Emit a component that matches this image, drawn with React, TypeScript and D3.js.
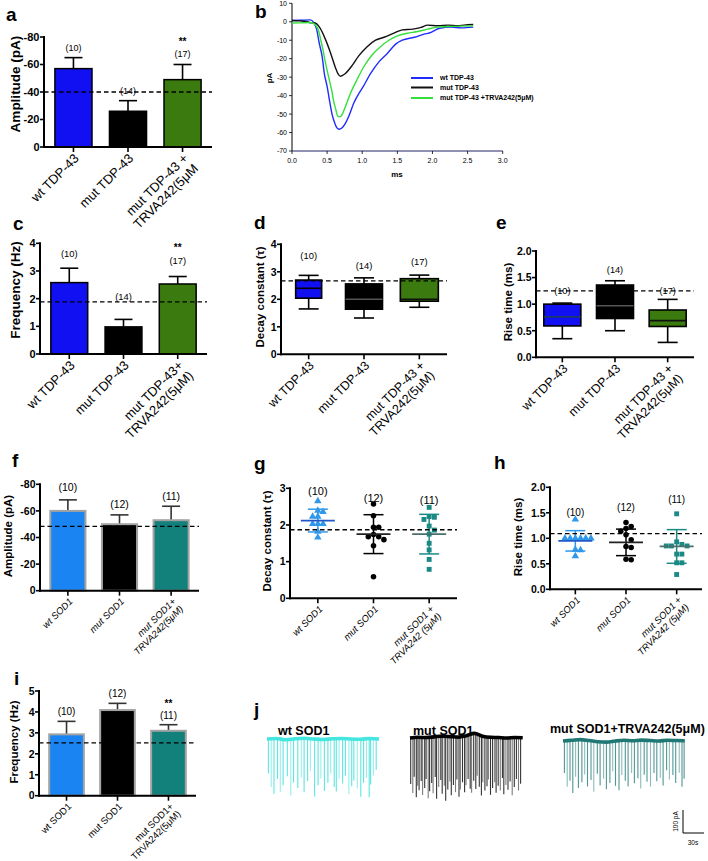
import React from "react";
import * as d3 from "d3";

const FONT = "'Liberation Sans', Arial, Helvetica, sans-serif";

// ================= DATA =================
// a: amplitude TDP-43
const aLabels = [["wt TDP-43"], ["mut TDP-43"], ["mut TDP-43 +", "TRVA242(5μM"]];
const aMean = [-57, -26, -49];
const aSem = [8, 7.7, 11];
const aN = ["(10)", "(14)", "(17)"];
const aNAt = [-72, -41, -67.6];
const aStarsAt = [null, null, -78];
const aRef = -40;
const aTicks = [0, -20, -40, -60, -80];

// b: average mEPSC traces (time ms, current pA)
const bWt: [number, number][] = [
  [0, 0.7], [0.11, 0.8], [0.26, 1.0], [0.31, -0.5], [0.35, -4], [0.39, -12], [0.43, -19], [0.46, -28],
  [0.5, -35], [0.54, -44], [0.57, -50], [0.61, -55], [0.64, -57.5], [0.67, -58.2], [0.71, -57.5],
  [0.76, -55], [0.81, -51], [0.88, -44], [0.95, -39], [1.0, -36], [1.12, -28], [1.24, -21.6],
  [1.36, -17], [1.48, -12], [1.57, -10], [1.74, -8.4], [1.88, -6.7], [1.98, -5.8], [2.04, -4.5],
  [2.1, -3.5], [2.27, -2.9], [2.41, -3.3], [2.58, -2.9],
];
const bMut: [number, number][] = [
  [0, 0.7], [0.11, 0.5], [0.2, 0.2], [0.26, -0.5], [0.33, -0.7], [0.4, -3.5], [0.47, -9], [0.55, -17],
  [0.62, -25], [0.66, -28.5], [0.69, -29.5], [0.72, -29], [0.76, -28], [0.86, -23.5], [0.95, -18.5],
  [1.07, -13.5], [1.19, -10], [1.31, -8.4], [1.45, -6.2], [1.57, -4.4], [1.72, -4], [1.84, -3],
  [1.93, -1.8], [2.08, -2.2], [2.22, -1.8], [2.36, -2.2], [2.45, -1.8], [2.58, -1.5],
];
const bTr: [number, number][] = [
  [0, -0.7], [0.11, -0.6], [0.26, -0.4], [0.3, -0.8], [0.34, -2], [0.38, -5], [0.41, -10], [0.44, -15],
  [0.47, -21], [0.51, -28], [0.54, -33], [0.57, -38], [0.59, -42.5], [0.62, -47], [0.65, -51],
  [0.68, -51.5], [0.71, -50.5], [0.76, -46], [0.83, -39], [0.93, -31], [1.02, -24.5], [1.14, -18],
  [1.26, -13.5], [1.38, -10], [1.5, -7.6], [1.64, -6.2], [1.79, -5.3], [1.93, -4], [2.08, -2.9],
  [2.27, -2.5], [2.58, -2.2],
];
const bLegend = ["wt TDP-43", "mut TDP-43", " mut TDP-43 +TRVA242(5μM)"];
const bXTicks = [0, 0.5, 1, 1.5, 2, 2.5, 3];
const bYTicks = [-70, -60, -50, -40, -30, -20, -10, 0, 10];

// c: frequency TDP-43
const cLabels = [["wt TDP-43"], ["mut TDP-43"], ["mut TDP-43+", "TRVA242(5μM)"]];
const cMean = [2.58, 0.98, 2.53];
const cSem = [0.52, 0.27, 0.27];
const cN = ["(10)", "(14)", "(17)"];
const cNAt = [3.61, 2.06, 3.36];
const cStarsAt = [null, null, 3.9];
const cRef = 1.88;
const cTicks = [0, 1, 2, 3, 4];

// d: decay constant TDP-43 (box plots)
const dLabels = [["wt TDP-43"], ["mut TDP-43"], ["mut TDP-43 +", "TRVA242(5μM)"]];
const dMin = [1.65, 1.32, 1.71];
const dQ1 = [2.04, 1.64, 1.93];
const dMed = [2.4, 2.0, 2.0];
const dQ3 = [2.7, 2.56, 2.75];
const dMax = [2.87, 2.78, 2.88];
const dN = ["(10)", "(14)", "(17)"];
const dNAt = [3.57, 3.21, 3.36];
const dRef = 2.67;
const dTicks = [0, 1, 2, 3, 4];

// e: rise time TDP-43 (box plots)
const eLabels = [["wt TDP-43"], ["mut TDP-43"], ["mut TDP-43 +", "TRVA242(5μM)"]];
const eMin = [0.35, 0.5, 0.28];
const eQ1 = [0.59, 0.73, 0.58];
const eMed = [0.76, 0.97, 0.69];
const eQ3 = [1.0, 1.36, 0.89];
const eMax = [1.02, 1.44, 1.09];
const eN = ["(10)", "(14)", "(17)"];
const eNAt = [1.25, 1.64, 1.25];
const eRef = 1.25;
const eTicks = [0, 0.5, 1, 1.5, 2];

// f: amplitude SOD1
const fLabels = [["wt SOD1"], ["mut SOD1"], ["mut SOD1+", "TRVA242(5μM)"]];
const fMean = [-60, -50, -53];
const fSem = [8.3, 7, 10.5];
const fN = ["(10)", "(12)", "(11)"];
const fNAt = [-78, -65.2, -71.2];
const fRef = -48.4;
const fTicks = [0, -20, -40, -60, -80];

// g: decay constant SOD1 (scatter)
const gLabels = [["wt SOD1"], ["mut SOD1"], ["mut SOD1 +", "TRVA242 (5μM)"]];
const gWt = [2.65, 2.39, 2.36, 2.23, 2.23, 2.03, 2.03, 2.03, 1.82, 1.66];
const gMut = [2.57, 2.25, 1.94, 1.94, 1.74, 1.68, 1.68, 1.6, 1.43, 0.59];
const gTr = [2.48, 2.23, 2.21, 2.15, 1.97, 1.86, 1.75, 1.5, 1.32, 1.06, 0.79];
const gMean = [2.12, 1.75, 1.75];
const gSd = [0.31, 0.53, 0.54];
const gN = ["(10)", "(12)", "(11)"];
const gNAt = [2.93, 2.74, 2.68];
const gRef = 1.87;
const gTicks = [0, 1, 2, 3];

// h: rise time SOD1 (scatter)
const hLabels = [["wt SOD1"], ["mut SOD1"], ["mut SOD1 +", "TRVA242 (5μM)"]];
const hWt = [1.37, 1.0, 1.0, 1.0, 1.0, 1.0, 1.0, 0.78, 0.77, 0.65];
const hMut = [1.31, 1.23, 1.19, 1.14, 1.07, 0.97, 0.84, 0.82, 0.58, 0.59];
const hTr = [1.48, 0.93, 0.88, 0.85, 0.85, 0.85, 0.69, 0.69, 0.52, 0.52, 0.29];
const hMean = [0.95, 0.92, 0.84];
const hSd = [0.2, 0.26, 0.33];
const hN = ["(10)", "(12)", "(11)"];
const hNAt = [1.5, 1.61, 1.77];
const hRef = 1.09;
const hTicks = [0, 0.5, 1, 1.5, 2];

// i: frequency SOD1
const iLabels = [["wt SOD1"], ["mut SOD1"], ["mut SOD1+", "TRVA242(5μM)"]];
const iMean = [2.93, 4.09, 3.1];
const iSem = [0.62, 0.32, 0.29];
const iN = ["(10)", "(12)", "(11)"];
const iNAt = [4.0, 4.9, 3.81];
const iStarsAt = [null, null, 4.47];
const iRef = 2.52;
const iTicks = [0, 1, 2, 3, 4, 5];

// j: spontaneous recordings (time s, amplitude pA)
const jTitles = ["wt SOD1", "mut SOD1", "mut SOD1+TRVA242(5μM)"];
const jWtSpikes: [number, number][] = [
  [2, 150], [6, 210], [10, 240], [15, 175], [19, 230], [23, 200], [29, 160], [34, 245], [38, 190],
  [44, 215], [49, 170], [53, 235], [58, 185], [62, 140], [68, 250], [73, 200], [77, 170], [82, 225],
  [87, 190], [91, 150], [96, 210], [99, 230], [103, 175], [108, 195], [112, 160], [117, 240],
  [121, 205], [124, 180], [129, 215], [134, 250], [138, 190], [142, 170], [146, 255], [148, 200],
  [152, 160], [156, 135],
];
const jMutSpikes: [number, number][] = [
  [1, 200], [4, 240], [6, 170], [9, 260], [11, 210], [13, 230], [16, 190], [18, 250], [21, 220],
  [23, 180], [26, 265], [28, 235], [31, 200], [33, 245], [36, 175], [38, 270], [41, 220], [44, 190],
  [46, 250], [49, 215], [51, 280], [54, 230], [57, 195], [59, 255], [62, 210], [65, 240], [67, 185],
  [70, 260], [72, 230], [75, 200], [78, 245], [80, 215], [83, 190], [86, 235], [88, 255], [91, 205],
  [94, 240], [96, 180], [99, 225], [102, 260], [104, 200], [107, 235], [110, 215], [112, 185],
  [115, 250], [118, 220], [121, 195], [123, 240], [126, 210], [129, 230], [132, 175], [134, 245],
  [137, 205], [140, 225], [143, 190], [146, 250], [149, 215], [152, 180], [155, 230], [158, 200],
];
const jTrSpikes: [number, number][] = [
  [2, 140], [6, 200], [10, 175], [14, 230], [18, 160], [22, 210], [27, 185], [31, 150], [35, 200],
  [40, 170], [44, 220], [49, 140], [53, 190], [58, 160], [62, 205], [67, 180], [71, 130], [75, 195],
  [80, 215], [84, 150], [89, 175], [93, 200], [98, 140], [102, 185], [107, 165], [111, 210],
  [116, 150], [120, 180], [125, 200], [130, 140], [134, 175], [139, 160], [143, 195], [148, 130],
  [152, 170], [157, 150], [161, 185], [166, 140], [170, 200], [173, 165],
];
const jWtDrift = [0, 2, -3, 1, 3, 0, -2, 1, 2, 0, -1, 2, 0];
const jMutDrift = [0, 3, 2, 5, 8, 6, 4, 10, 20, 8, 3, 2, 0, 2, 1];
const jTrDrift = [0, 3, 6, 2, -3, -5, 0, 3, 1, 4, 2, 0, 3, 2, 1];
const jDur = [160, 161, 174];

// ================= HELPERS =================
const fmtInt = (v: number) => String(v);
const fmt1 = d3.format(".1f");

function XLabels({ xs, y0, labels, size, italic }: { xs: number[]; y0: number; labels: string[][]; size: number; italic?: boolean }) {
  return (
    <g>
      {labels.map((lines, i) => (
        <g key={i} transform={`translate(${xs[i] + 3},${y0 + 9}) rotate(-45)`}>
          <text textAnchor="end" fontSize={size} fontStyle={italic ? "italic" : "normal"} fill="#000">
            {lines.map((l, j) => (
              <tspan key={j} x={0} dy={j === 0 ? "0.35em" : "1.1em"}>{l}</tspan>
            ))}
          </text>
        </g>
      ))}
    </g>
  );
}

interface FrameProps {
  x0: number; x1: number; y: d3.ScaleLinear<number, number>; ticks: number[]; fmt: (v: number) => string;
  tickSize: number; xs: number[]; labels: string[][]; labelSize: number; italic?: boolean;
  title: string; titleX: number; titleY: number; titleSize: number;
  letter: string; letterX: number; letterY: number; refV: number;
  n: string[]; nAt: number[]; nSize: number; starsAt?: (number | null)[];
  children?: React.ReactNode;
}

function Frame(p: FrameProps) {
  const d = p.y.domain();
  const y0 = p.y(d[0]);
  const yT = p.y(d[1]);
  return (
    <g>
      {p.children}
      <line x1={p.x0} x2={p.x1} y1={p.y(p.refV)} y2={p.y(p.refV)} stroke="#000" strokeWidth={1.3} strokeDasharray="4.5,3" />
      {/* y axis */}
      <line x1={p.x0} x2={p.x0} y1={y0 + 1} y2={yT - 1} stroke="#000" strokeWidth={2} />
      {p.ticks.map((t) => (
        <g key={t}>
          <line x1={p.x0 - 4} x2={p.x0} y1={p.y(t)} y2={p.y(t)} stroke="#000" strokeWidth={1.6} />
          <text x={p.x0 - 4.5} y={p.y(t)} dy="0.36em" textAnchor="end" fontSize={p.tickSize} fontWeight="bold">{p.fmt(t)}</text>
        </g>
      ))}
      {/* x axis */}
      <line x1={p.x0 - 1} x2={p.x1} y1={y0} y2={y0} stroke="#000" strokeWidth={2} />
      {p.xs.map((x, i) => (
        <line key={i} x1={x} x2={x} y1={y0} y2={y0 + 5} stroke="#000" strokeWidth={1.6} />
      ))}
      <XLabels xs={p.xs} y0={y0} labels={p.labels} size={p.labelSize} italic={p.italic} />
      <text transform={`translate(${p.titleX},${p.titleY}) rotate(-90)`} textAnchor="middle" dy="0.35em" fontSize={p.titleSize} fontWeight="bold">{p.title}</text>
      <text x={p.letterX} y={p.letterY} fontSize={19} fontWeight="bold">{p.letter}</text>
      {p.n.map((s, i) => (
        <text key={i} x={p.xs[i]} y={p.y(p.nAt[i])} dy="0.35em" textAnchor="middle" fontSize={p.nSize}>{s}</text>
      ))}
      {p.starsAt && p.starsAt.map((v, i) => v === null ? null : (
        <text key={"s" + i} x={p.xs[i]} y={p.y(v) + 5} textAnchor="middle" fontSize={10} fontWeight="bold">**</text>
      ))}
    </g>
  );
}

type Common = Omit<FrameProps, "y" | "xs" | "children">;

function BarPanel(p: Common & {
  y0: number; yTop: number; domain: [number, number]; means: number[]; sems: number[];
  colors: string[]; barStroke: string; barStrokeW: number; errColor: string;
}) {
  const y = d3.scaleLinear().domain(p.domain).range([p.y0, p.yTop]);
  const xb = d3.scaleBand<number>().domain(d3.range(p.means.length)).range([p.x0, p.x1]).paddingInner(0.32).paddingOuter(0.2);
  const bw = xb.bandwidth();
  const xs = p.means.map((_, i) => (xb(i) as number) + bw / 2);
  return (
    <Frame {...p} y={y} xs={xs}>
      {p.means.map((m, i) => {
        const top = y(m + Math.sign(m) * p.sems[i]);
        return (
          <g key={i}>
            <line x1={xs[i]} x2={xs[i]} y1={y(m)} y2={top} stroke={p.errColor} strokeWidth={1.6} />
            <line x1={xs[i] - 9} x2={xs[i] + 9} y1={top} y2={top} stroke={p.errColor} strokeWidth={1.6} />
            <rect x={xb(i)} y={y(m)} width={bw} height={p.y0 - y(m)} fill={p.colors[i]} stroke={p.barStroke} strokeWidth={p.barStrokeW} />
          </g>
        );
      })}
    </Frame>
  );
}

function BoxPanel(p: Common & {
  y0: number; yTop: number; domain: [number, number]; mins: number[]; q1: number[]; med: number[];
  q3: number[]; maxs: number[]; colors: string[]; medColors: string[]; widths: number[];
}) {
  const y = d3.scaleLinear().domain(p.domain).range([p.y0, p.yTop]);
  const xp = d3.scalePoint<number>().domain(d3.range(p.med.length)).range([p.x0, p.x1]).padding(0.5);
  const xs = p.med.map((_, i) => xp(i) as number);
  return (
    <Frame {...p} y={y} xs={xs}>
      {p.med.map((m, i) => {
        const cx = xs[i];
        const w = p.widths[i];
        return (
          <g key={i} stroke="#000" strokeWidth={1.6}>
            <line x1={cx} x2={cx} y1={y(p.q3[i])} y2={y(p.maxs[i])} />
            <line x1={cx} x2={cx} y1={y(p.q1[i])} y2={y(p.mins[i])} />
            <line x1={cx - 10} x2={cx + 10} y1={y(p.maxs[i])} y2={y(p.maxs[i])} />
            <line x1={cx - 10} x2={cx + 10} y1={y(p.mins[i])} y2={y(p.mins[i])} />
            <rect x={cx - w / 2} y={y(p.q3[i])} width={w} height={y(p.q1[i]) - y(p.q3[i])} fill={p.colors[i]} />
            <line x1={cx - w / 2} x2={cx + w / 2} y1={y(m)} y2={y(m)} stroke={p.medColors[i]} />
          </g>
        );
      })}
    </Frame>
  );
}

function swarm(vals: number[], y: (v: number) => number, r: number): number[] {
  const out = vals.map(() => 0);
  const placed: { x: number; y: number }[] = [];
  const order = d3.range(vals.length).sort((a, b) => vals[b] - vals[a]);
  for (const i of order) {
    const py = y(vals[i]);
    for (let k = 0; k < 30; k++) {
      const off = k === 0 ? 0 : (k % 2 === 1 ? 1 : -1) * Math.ceil(k / 2) * r;
      const hit = placed.some((q) => Math.abs(q.x - off) < r * 0.99 && Math.abs(q.y - py) < r * 0.99);
      if (!hit) {
        out[i] = off;
        placed.push({ x: off, y: py });
        break;
      }
    }
  }
  return out;
}

function ScatterPanel(p: Common & {
  y0: number; yTop: number; domain: [number, number]; groups: number[][]; means: number[]; sds: number[];
  colors: string[]; meanColors: string[]; symbols: d3.SymbolType[];
}) {
  const y = d3.scaleLinear().domain(p.domain).range([p.y0, p.yTop]);
  const xp = d3.scalePoint<number>().domain(d3.range(p.groups.length)).range([p.x0, p.x1]).padding(0.5);
  const xs = p.groups.map((_, i) => xp(i) as number);
  return (
    <Frame {...p} y={y} xs={xs}>
      {p.groups.map((vals, i) => {
        const cx = xs[i];
        const offs = swarm(vals, y, 5.2);
        const sym = d3.symbol().type(p.symbols[i]).size(24)();
        const hi = y(p.means[i] + p.sds[i]);
        const lo = y(p.means[i] - p.sds[i]);
        return (
          <g key={i}>
            {vals.map((v, k) => (
              <path key={k} d={sym as string} transform={`translate(${cx + offs[k]},${y(v)})`} fill={p.colors[i]} />
            ))}
            <g stroke={p.colors[i]} strokeWidth={1.5}>
              <line x1={cx} x2={cx} y1={hi} y2={lo} />
              <line x1={cx - 10} x2={cx + 10} y1={hi} y2={hi} />
              <line x1={cx - 10} x2={cx + 10} y1={lo} y2={lo} />
            </g>
            <line x1={cx - 17} x2={cx + 17} y1={y(p.means[i])} y2={y(p.means[i])} stroke={p.meanColors[i]} strokeWidth={1.8} />
          </g>
        );
      })}
    </Frame>
  );
}

function PanelB() {
  const x = d3.scaleLinear().domain([0, 3]).range([292, 502.7]);
  const y = d3.scaleLinear().domain([-70, 10]).range([151, 3.3]);
  const line = d3.line<[number, number]>().x((d) => x(d[0])).y((d) => y(d[1])).curve(d3.curveMonotoneX);
  const series = [
    { d: bWt, c: "#1f2bff" },
    { d: bMut, c: "#111" },
    { d: bTr, c: "#33e03a" },
  ];
  const legendY = [78, 87.5, 98];
  return (
    <g>
      <text x={255} y={18} fontSize={19} fontWeight="bold">b</text>
      <line x1={292} x2={292} y1={3.3} y2={151} stroke="#000" strokeWidth={1} />
      <line x1={292} x2={502.7} y1={151} y2={151} stroke="#222266" strokeWidth={1} />
      {bYTicks.map((t) => (
        <g key={t}>
          <line x1={289} x2={292} y1={y(t)} y2={y(t)} stroke="#000" strokeWidth={0.8} />
          <text x={287} y={y(t)} dy="0.35em" textAnchor="end" fontSize={7}>{t}</text>
        </g>
      ))}
      {bXTicks.map((t) => (
        <g key={t}>
          <line x1={x(t)} x2={x(t)} y1={151} y2={154} stroke="#000" strokeWidth={0.8} />
          <text x={x(t)} y={161} dy="0.35em" textAnchor="middle" fontSize={7}>{fmt1(t)}</text>
        </g>
      ))}
      <text transform="translate(269,78) rotate(-90)" textAnchor="middle" dy="0.35em" fontSize={8} fontWeight="bold">pA</text>
      <text x={397} y={174} textAnchor="middle" dy="0.35em" fontSize={8} fontWeight="bold">ms</text>
      {series.map((s, i) => (
        <path key={i} d={line(s.d) as string} fill="none" stroke={s.c} strokeWidth={1.4} />
      ))}
      {series.map((s, i) => (
        <g key={"l" + i}>
          <line x1={411} x2={433} y1={legendY[i]} y2={legendY[i]} stroke={s.c} strokeWidth={2} />
          <text x={440} y={legendY[i]} dy="0.35em" fontSize={7} fontWeight="bold">{bLegend[i]}</text>
        </g>
      ))}
    </g>
  );
}

function Trace({ x0, base, dur, drift, spikes, color, spikeColor }: {
  x0: number; base: number; dur: number; drift: number[]; spikes: [number, number][]; color: string; spikeColor: string;
}) {
  const x = d3.scaleLinear().domain([0, dur]).range([x0, x0 + dur * 0.7]);
  const k = d3.scaleLinear().domain([0, 100]).range([0, 23]);
  const dt = d3.range(drift.length).map((i) => (i * dur) / (drift.length - 1));
  const driftAt = d3.scaleLinear().domain(dt).range(drift);
  const basePath = d3.line<number>().x((_, i) => x(dt[i])).y((v) => base - k(v)).curve(d3.curveMonotoneX)(drift);
  return (
    <g>
      {spikes.map(([t, a], i) => (
        <line key={i} x1={x(t)} x2={x(t)} y1={base - k(driftAt(t))} y2={base - k(driftAt(t)) + k(a)}
          stroke={spikeColor} strokeWidth={1.1} strokeOpacity={i % 3 === 1 ? 0.55 : 0.85} />
      ))}
      <path d={basePath as string} fill="none" stroke={color} strokeWidth={3.6} />
    </g>
  );
}

function PanelJ() {
  const k = d3.scaleLinear().domain([0, 100]).range([0, 23]);
  const sx = 30 * 0.7;
  return (
    <g>
      <text x={254} y={716} fontSize={19} fontWeight="bold">j</text>
      <text x={278} y={735} fontSize={12.5} fontWeight="bold">{jTitles[0]}</text>
      <text x={413} y={735} fontSize={12.5} fontWeight="bold">{jTitles[1]}</text>
      <text x={550} y={733} fontSize={12.5} fontWeight="bold">{jTitles[2]}</text>
      <Trace x0={267} base={739} dur={jDur[0]} drift={jWtDrift} spikes={jWtSpikes} color="#45e6e0" spikeColor="#3fe0da" />
      <Trace x0={410} base={738} dur={jDur[1]} drift={jMutDrift} spikes={jMutSpikes} color="#000" spikeColor="#111" />
      <Trace x0={563} base={741} dur={jDur[2]} drift={jTrDrift} spikes={jTrSpikes} color="#1f7873" spikeColor="#2e8580" />
      <line x1={683} x2={683} y1={833 - k(100)} y2={833} stroke="#000" strokeWidth={1} />
      <line x1={683} x2={683 + sx} y1={833} y2={833} stroke="#000" strokeWidth={1} />
      <text transform={`translate(676,${833 - k(50)}) rotate(-90)`} textAnchor="middle" dy="0.35em" fontSize={6.5}>100 pA</text>
      <text x={693} y={843} textAnchor="middle" dy="0.35em" fontSize={6.5}>30s</text>
    </g>
  );
}

export default function App() {
  return (
    <svg width={708} height={861} style={{ position: "absolute", left: 0, top: 0 }} fontFamily={FONT}>
      <rect width={708} height={861} fill="#fff" />
      <BarPanel x0={44} x1={212} y0={147} yTop={37} domain={[0, -80]} ticks={aTicks} fmt={fmtInt} tickSize={11}
        means={aMean} sems={aSem} colors={["#1010f2", "#000", "#3b7a0e"]} barStroke="#000" barStrokeW={1.5} errColor="#000"
        labels={aLabels} labelSize={13} title="Amplitude (pA)" titleX={15} titleY={84} titleSize={13.5}
        letter="a" letterX={6} letterY={21} refV={aRef} n={aN} nAt={aNAt} nSize={9} starsAt={aStarsAt} />
      <PanelB />
      <BarPanel x0={40} x1={207} y0={354} yTop={243.3} domain={[0, 4]} ticks={cTicks} fmt={fmtInt} tickSize={11}
        means={cMean} sems={cSem} colors={["#1010f2", "#000", "#3b7a0e"]} barStroke="#000" barStrokeW={1.5} errColor="#000"
        labels={cLabels} labelSize={13} title="Frequency (Hz)" titleX={15} titleY={290} titleSize={13.5}
        letter="c" letterX={13} letterY={230} refV={cRef} n={cN} nAt={cNAt} nSize={9.4} starsAt={cStarsAt} />
      <BoxPanel x0={281} x1={447} y0={354.3} yTop={244.3} domain={[0, 4]} ticks={dTicks} fmt={fmtInt} tickSize={10.5}
        mins={dMin} q1={dQ1} med={dMed} q3={dQ3} maxs={dMax} colors={["#1010f2", "#000", "#3b7a0e"]}
        medColors={["#000", "#555", "#111"]} widths={[26, 37, 38]}
        labels={dLabels} labelSize={12.5} title="Decay constant (τ)" titleX={260} titleY={297} titleSize={11.5}
        letter="d" letterX={254} letterY={229} refV={dRef} n={dN} nAt={dNAt} nSize={9.4} />
      <BoxPanel x0={536} x1={694} y0={357.3} yTop={251} domain={[0, 2]} ticks={eTicks} fmt={fmt1} tickSize={10.5}
        mins={eMin} q1={eQ1} med={eMed} q3={eQ3} maxs={eMax} colors={["#1010f2", "#000", "#3b7a0e"]}
        medColors={["#1a3a6a", "#555", "#111"]} widths={[37, 37, 37]}
        labels={eLabels} labelSize={12.5} title="Rise time (ms)" titleX={508} titleY={302} titleSize={11.5}
        letter="e" letterX={496} letterY={229} refV={eRef} n={eN} nAt={eNAt} nSize={9.2} />
      <BarPanel x0={40} x1={199} y0={590.7} yTop={484.3} domain={[0, -80]} ticks={fTicks} fmt={fmtInt} tickSize={10.5}
        means={fMean} sems={fSem} colors={["#1a84f2", "#000", "#12807b"]} barStroke="#a3a3a3" barStrokeW={2} errColor="#333"
        labels={fLabels} labelSize={9.5} italic title="Amplitude (pA)" titleX={8} titleY={536} titleSize={11.5}
        letter="f" letterX={12} letterY={467} refV={fRef} n={fN} nAt={fNAt} nSize={10.5} />
      <ScatterPanel x0={290} x1={457} y0={598.3} yTop={488.3} domain={[0, 3]} ticks={gTicks} fmt={fmtInt} tickSize={10.5}
        groups={[gWt, gMut, gTr]} means={gMean} sds={gSd} colors={["#2f98ea", "#000", "#1b8a85"]}
        meanColors={["#2257c8", "#222", "#4a6e6c"]} symbols={[d3.symbolTriangle, d3.symbolCircle, d3.symbolSquare]}
        labels={gLabels} labelSize={9.5} italic title="Decay constant (τ)" titleX={267} titleY={541} titleSize={11.5}
        letter="g" letterX={254} letterY={470} refV={gRef} n={gN} nAt={gNAt} nSize={11} />
      <ScatterPanel x0={550} x1={702} y0={589.3} yTop={487.3} domain={[0, 2]} ticks={hTicks} fmt={fmt1} tickSize={10.5}
        groups={[hWt, hMut, hTr]} means={hMean} sds={hSd} colors={["#2f98ea", "#000", "#1b8a85"]}
        meanColors={["#2257c8", "#222", "#4a6e6c"]} symbols={[d3.symbolTriangle, d3.symbolCircle, d3.symbolSquare]}
        labels={hLabels} labelSize={9.5} italic title="Rise time (ms)" titleX={518} titleY={537} titleSize={11.5}
        letter="h" letterX={494} letterY={469} refV={hRef} n={hN} nAt={hNAt} nSize={10} />
      <BarPanel x0={39} x1={196} y0={795.7} yTop={691} domain={[0, 5]} ticks={iTicks} fmt={fmtInt} tickSize={10.5}
        means={iMean} sems={iSem} colors={["#1a84f2", "#000", "#12807b"]} barStroke="#a3a3a3" barStrokeW={2} errColor="#333"
        labels={iLabels} labelSize={9.5} title="Frequency (Hz)" titleX={14} titleY={742} titleSize={11.5}
        letter="i" letterX={14} letterY={685} refV={iRef} n={iN} nAt={iNAt} nSize={10} starsAt={iStarsAt} />
      <PanelJ />
    </svg>
  );
}
